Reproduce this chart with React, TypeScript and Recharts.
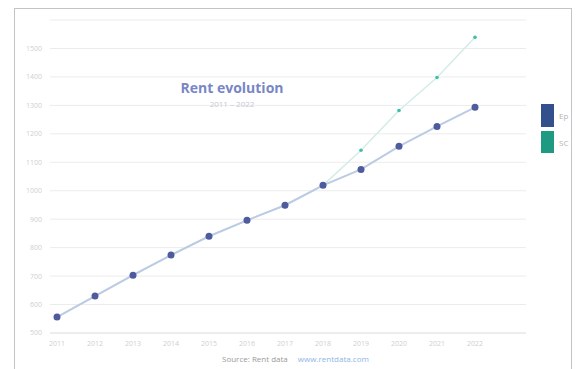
import {
  CartesianGrid,
  Line,
  LineChart,
  XAxis,
  YAxis,
} from "recharts";

const years = ["2011", "2012", "2013", "2014", "2015", "2016", "2017", "2018", "2019", "2020", "2021", "2022"];
const epRent = [556, 630, 703, 774, 840, 896, 949, 1019, 1075, 1156, 1226, 1293];
const scRent = [556, 630, 703, 774, 840, 896, 949, 1019, 1142, 1282, 1398, 1539];
const yTicks = [500, 600, 700, 800, 900, 1000, 1100, 1200, 1300, 1400, 1500];

const data = years.map((year, i) => ({
  year,
  ep: epRent[i],
  sc: scRent[i],
}));

export default function App() {
  return (
    <div
      style={{
        position: "fixed",
        left: 0,
        top: 0,
        width: 581,
        height: 369,
        background: "#fff",
        fontFamily: "'Open Sans', sans-serif",
        overflow: "hidden",
      }}
    >
      <div
        style={{
          position: "absolute",
          left: 14,
          top: 8,
          width: 556,
          height: 370,
          border: "1px solid #c4c4c4",
        }}
      />
      <LineChart
        width={581}
        height={369}
        data={data}
        margin={{ top: 20, right: 55, bottom: 16, left: 20 }}
        style={{ position: "absolute", left: 0, top: 0 }}
      >
        <CartesianGrid vertical={false} stroke="#ececec" />
        <XAxis
          dataKey="year"
          padding={{ left: 7, right: 51 }}
          tick={{ fontSize: 7, fill: "#cfcfcf" }}
          tickLine={false}
          axisLine={{ stroke: "#e4e4e4" }}
          height={20}
        />
        <YAxis
          domain={[500, 1600]}
          ticks={yTicks}
          width={30}
          tick={{ fontSize: 7, fill: "#cfcfcf" }}
          tickLine={false}
          axisLine={false}
        />
        <Line
          dataKey="sc"
          stroke="#d3ece7"
          strokeWidth={1.5}
          dot={{ r: 1.8, fill: "#3cc0a8", stroke: "none" }}
          isAnimationActive={false}
        />
        <Line
          dataKey="ep"
          stroke="#bccbe4"
          strokeWidth={2}
          dot={{ r: 3.5, fill: "#4e5c9e", stroke: "none" }}
          isAnimationActive={false}
        />
      </LineChart>
      <div
        style={{
          position: "absolute",
          left: 132,
          top: 78,
          width: 200,
          textAlign: "center",
          color: "#7886c6",
          fontWeight: 700,
          fontSize: 14,
        }}
      >
        Rent evolution
      </div>
      <div
        style={{
          position: "absolute",
          left: 132,
          top: 98,
          width: 200,
          textAlign: "center",
          color: "#c4c8d8",
          fontSize: 8,
        }}
      >
        2011 – 2022
      </div>
      <div style={{ position: "absolute", left: 541, top: 104, width: 13, height: 23, background: "#34508c" }} />
      <div style={{ position: "absolute", left: 541, top: 131, width: 13, height: 22, background: "#1f9a82" }} />
      <div style={{ position: "absolute", left: 559, top: 110, fontSize: 8, color: "#b4b4b4" }}>Ep</div>
      <div style={{ position: "absolute", left: 559, top: 137, fontSize: 8, color: "#b4b4b4" }}>SC</div>
      <div
        style={{
          position: "absolute",
          left: 222,
          top: 353,
          fontSize: 8,
          color: "#9a9a9a",
          whiteSpace: "nowrap",
        }}
      >
        Source: Rent data{" "}
        <span style={{ color: "#8fb4e8", marginLeft: 8 }}>www.rentdata.com</span>
      </div>
    </div>
  );
}
